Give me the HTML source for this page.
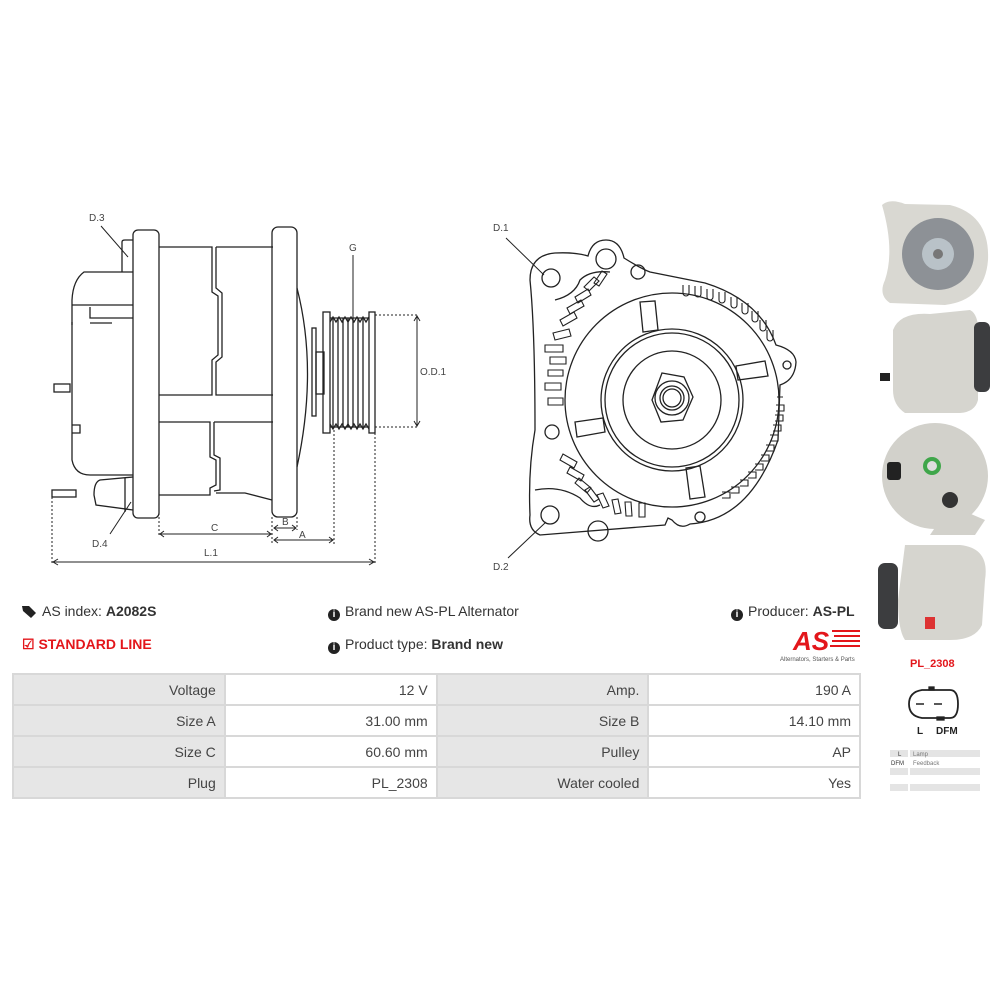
<!DOCTYPE html>
<html><head><meta charset="utf-8"><style>
body{margin:0;width:1000px;height:1000px;background:#fff;position:relative;overflow:hidden;font-family:"Liberation Sans",sans-serif;color:#333}
.t{position:absolute;font-size:14px;white-space:nowrap}
.i{display:inline-block;width:12px;height:12px;border-radius:50%;background:#222;color:#fff;font-size:10px;font-weight:bold;text-align:center;line-height:12px;vertical-align:-1px;margin-right:5px}
table{position:absolute;left:12px;top:673px;border-collapse:collapse;width:849px;font-size:14px;color:#444}
td{border:2px solid #d8d8d8;height:29px;text-align:right;padding:0 8px;width:196px}
td.g{background:#e6e6e6}
</style></head><body>
<svg width="1000" height="1000" style="position:absolute;left:0;top:0" fill="none" stroke="#222" stroke-width="1.3" font-family="Liberation Sans" >
<path d="M133,272 L84,272 Q73,280 72,300 L72,460 Q75,475 90,475 L133,475"/>
<path d="M72,305 L133,305 M90,307 L90,318 L133,318 M90,323 L112,323 M72,322 L72,325"/>
<path d="M72,425 L80,425 L80,433 L72,433"/>
<rect x="54" y="384" width="16" height="8"/>
<path d="M122,272 L122,242 Q122,240 125,240 L133,240"/>
<rect x="133" y="230" width="26" height="288" rx="5"/>
<path d="M159,247 L212,247 L212,292 L218,296 L218,355 L212,360 L212,395 L159,395"/>
<path d="M216,247 L273,247 M216,247 L216,288 L222,293 L222,357 L216,362 L216,395 L273,395"/>
<path d="M159,422 L210,422 L210,457 L216,460 L216,485 L210,488 L210,495 L159,495"/>
<path d="M214,422 L273,422 M214,422 L214,455 L220,458 L220,490 L214,491 M216,493 L245,493 L272,500"/>
<path d="M133,477 L100,480 Q94,482 94,495 L96,505 L133,510"/>
<path d="M125,478 L125,512"/>
<rect x="52" y="490" width="24" height="7"/>
<rect x="272" y="227" width="25" height="290" rx="6"/>
<path d="M297,288 Q318,370 297,467"/>
<rect x="312" y="328" width="4" height="88"/>
<rect x="316" y="352" width="8" height="42"/>
<rect x="323" y="312" width="7" height="121"/>
<rect x="369" y="312" width="6" height="121"/>
<path d="M330,318 L369,318 M330,427 L369,427 M333,318 L333,427 M338,318 L338,427 M343,318 L343,427 M348,318 L348,427 M353,318 L353,427 M358,318 L358,427 M363,318 L363,427"/>
<path d="M330,322 l3,-5 3,5 3,-5 3,5 3,-5 3,5 3,-5 3,5 3,-5 3,5 3,-5 3,5 3,-5 M330,424 l3,5 3,-5 3,5 3,-5 3,5 3,-5 3,5 3,-5 3,5 3,-5 3,5 3,-5 3,5"/>
<g stroke-dasharray="2,2" stroke-width="1">
<path d="M375,315 L418,315 M375,427 L418,427 M334,430 L334,545 M375,433 L375,565 M52,497 L52,565 M159,497 L159,537 M272,517 L272,545 M297,517 L297,530"/>
</g>
<g stroke-width="1">
<path d="M417,317 L417,425 M414,321 L417,316 L420,321 M414,421 L417,426 L420,421"/>
<path d="M54,562 L373,562 M58,559 L53,562 L58,565 M369,559 L374,562 L369,565"/>
<path d="M160,534 L271,534 M164,531 L160,534 L164,537 M267,531 L271,534 L267,537"/>
<path d="M274,528 L296,528 M278,525 L274,528 L278,531 M292,525 L296,528 L292,531"/>
<path d="M274,540 L333,540 M278,537 L274,540 L278,543 M329,537 L333,540 L329,543"/>
<path d="M101,226 L128,257 M353,255 L353,318 M110,534 L131,502 M506,238 L544,275 M508,558 L546,522"/>
</g>
<g fill="#444" stroke="none" font-size="10">
<text x="89" y="221">D.3</text><text x="349" y="251">G</text><text x="420" y="375">O.D.1</text>
<text x="92" y="547">D.4</text><text x="211" y="531">C</text><text x="282" y="525">B</text><text x="299" y="538">A</text>
<text x="204" y="556">L.1</text><text x="493" y="231">D.1</text><text x="493" y="570">D.2</text>
</g>
<path d="M530,280 Q530,255 555,253 Q575,252 588,256 Q592,240 606,240 Q620,240 624,258 Q640,268 650,272 L705,283 Q760,300 776,345 Q795,350 796,362 Q795,380 780,385 L778,440 Q750,520 690,524 Q680,530 672,520 L668,518 L665,525 L540,535 Q528,530 530,515 Q528,470 535,430 Q535,330 530,280Z"/>
<circle cx="551" cy="278" r="9"/><circle cx="606" cy="259" r="10"/><circle cx="638" cy="272" r="7"/>
<circle cx="552" cy="432" r="7"/><circle cx="550" cy="515" r="9"/><circle cx="598" cy="531" r="10"/><circle cx="700" cy="517" r="5"/><circle cx="787" cy="365" r="4"/>
<path d="M555,300 Q575,295 580,280 Q590,270 610,272 M535,490 Q560,485 580,498 Q590,510 600,505"/>
<circle cx="672" cy="400" r="107"/>
<circle cx="672" cy="400" r="71"/><circle cx="672" cy="400" r="67"/><circle cx="672" cy="400" r="49"/>
<polygon points="662,373 684,377 693,397 683,420 661,422 652,400"/>
<circle cx="672" cy="398" r="17"/><circle cx="672" cy="398" r="12"/><circle cx="672" cy="398" r="9"/>
<path d="M640,302 L655,301 L658,330 L643,332Z M736,366 L765,361 L768,376 L738,380Z M575,422 L603,418 L605,432 L577,437Z M686,468 L700,466 L705,497 L690,499Z"/>
<g stroke-width="1.1">
<path d="M548,370 h15 v6 h-15z M545,383 h16 v7 h-16z M548,398 h15 v7 h-15z M545,345 h18 v7 h-18z M550,357 h16 v7 h-16z"/>
<path d="M560,320 l14,-8 3,6 -14,8z M567,308 l14,-8 3,6 -14,8z M575,297 l13,-8 3,6 -13,8z M584,287 l10,-10 5,4 -10,10z M594,283 l8,-12 5,3 -8,12z M553,333 l16,-4 2,7 -16,4z"/>
<path d="M560,460 l14,8 3,-6 -14,-8z M567,473 l14,8 3,-6 -14,-8z M575,483 l12,10 4,-5 -12,-10z M585,490 l9,12 5,-3 -9,-12z M597,495 l6,13 6,-2 -6,-13z M612,500 l3,14 6,-1 -3,-14z M625,502 l1,14 6,0 -1,-14z M639,503 l0,14 6,0 0,-14z"/>
<path d="M683,285 v8 a3,3 0 0 0 6,0 v-8 M695,286 v8 a3,3 0 0 0 6,0 v-8 M707,289 v8 a3,3 0 0 0 6,0 v-8 M719,292 v8 a3,3 0 0 0 6,0 v-8 M731,297 v8 a3,3 0 0 0 6,0 v-8 M742,303 v8 a3,3 0 0 0 6,0 v-8 M752,311 v8 a3,3 0 0 0 6,0 v-8 M760,320 v8 a3,3 0 0 0 6,0 v-8 M767,330 v8 a3,3 0 0 0 6,0 v-8"/>
<path d="M777,397 h6 M776,405 h8 v6 h-8 M775,415 h8 v6 h-8 M773,425 h8 v6 h-8 M770,435 h8 v6 h-8 M766,445 h8 v6 h-8 M761,455 h8 v6 h-8 M755,464 h8 v6 h-8 M748,472 h8 v6 h-8 M740,480 h8 v6 h-8 M731,487 h8 v6 h-8 M722,492 h8 v6 h-8"/>
</g>
<g stroke="none">
<path d="M882,205 Q890,198 905,204 L950,205 Q990,215 988,260 Q985,300 945,305 L890,303 Q878,295 885,280 Q895,250 882,205Z" fill="#d9d8d2"/>
<circle cx="938" cy="254" r="36" fill="#8d9196"/><circle cx="938" cy="254" r="16" fill="#b9c2c8"/><circle cx="938" cy="254" r="5" fill="#777"/>
<path d="M893,330 Q900,312 930,314 L970,310 Q980,315 978,340 L978,400 Q975,412 960,413 L905,413 Q893,405 893,390Z" fill="#d6d5cf"/>
<rect x="974" y="322" width="16" height="70" rx="6" fill="#3c3d3f"/>
<rect x="880" y="373" width="10" height="8" fill="#222"/>
<circle cx="935" cy="476" r="53" fill="#d2d1cb"/>
<path d="M950,505 L985,520 L975,535 L930,535Z" fill="#d2d1cb"/>
<circle cx="932" cy="466" r="9" fill="#3fa64a"/><circle cx="932" cy="466" r="5" fill="#ddd"/>
<rect x="887" y="462" width="14" height="18" rx="3" fill="#222"/>
<circle cx="950" cy="500" r="8" fill="#333"/>
<path d="M905,545 L960,545 Q990,548 985,580 L982,625 Q975,640 950,640 L905,640 Q898,630 898,600Z" fill="#d6d5cf"/>
<rect x="878" y="563" width="20" height="66" rx="7" fill="#3c3d3f"/>
<rect x="925" y="617" width="10" height="12" fill="#d33"/>
</g>
<text x="793" y="650" font-size="26" font-weight="bold" font-style="italic" fill="#e3161b" stroke="none">AS</text>
<g stroke="#e3161b" stroke-width="2"><path d="M832,631 h28 M834,636 h26 M832,641 h28 M830,646 h30"/></g>
<text x="780" y="661" font-size="6" fill="#555" stroke="none">Alternators, Starters &amp; Parts</text>
<path d="M922,690 L950,690 Q958,690 958,704 Q958,718 950,718 L922,718 Q909,716 909,704 Q909,692 922,690Z" stroke-width="1.8"/>
<path d="M916,704 h8 M934,704 h8" stroke-width="1.6"/>
<rect x="929" y="687" width="5" height="3" fill="#222"/><rect x="937" y="717" width="7" height="3" fill="#222"/>
<text x="917" y="734" font-size="10" font-weight="bold" fill="#222" stroke="none">L</text>
<text x="936" y="734" font-size="10" font-weight="bold" fill="#222" stroke="none">DFM</text>
<g stroke="none" fill="#e4e4e4"><rect x="890" y="750" width="18" height="7"/><rect x="910" y="750" width="70" height="7"/><rect x="890" y="768" width="18" height="7"/><rect x="910" y="768" width="70" height="7"/><rect x="890" y="784" width="18" height="7"/><rect x="910" y="784" width="70" height="7"/></g>
<text x="898" y="756" font-size="6" fill="#333" stroke="none">L</text><text x="913" y="756" font-size="6" fill="#777" stroke="none">Lamp</text>
<text x="891" y="765" font-size="6" fill="#333" stroke="none">DFM</text><text x="913" y="765" font-size="6" fill="#777" stroke="none">Feedback</text>
<path d="M22,606 l7,0 7,7 -5,5 -8,-7z" fill="#222" stroke="none"/>
</svg>
<div class="t" style="left:42px;top:603px">AS index: <b>A2082S</b></div>
<div class="t" style="left:22px;top:636px;color:#e3161b;font-weight:bold">&#9745; STANDARD LINE</div>
<div class="t" style="left:328px;top:603px"><span class="i">i</span>Brand new AS-PL Alternator</div>
<div class="t" style="left:328px;top:636px"><span class="i">i</span>Product type: <b>Brand new</b></div>
<div class="t" style="left:731px;top:603px"><span class="i">i</span>Producer: <b>AS-PL</b></div>
<div class="t" style="left:910px;top:658px;color:#e3161b;font-weight:bold;font-size:11px">PL_2308</div>
<table>
<tr><td class="g">Voltage</td><td>12 V</td><td class="g">Amp.</td><td>190 A</td></tr>
<tr><td class="g">Size A</td><td>31.00 mm</td><td class="g">Size B</td><td>14.10 mm</td></tr>
<tr><td class="g">Size C</td><td>60.60 mm</td><td class="g">Pulley</td><td>AP</td></tr>
<tr><td class="g">Plug</td><td>PL_2308</td><td class="g">Water cooled</td><td>Yes</td></tr>
</table>
</body></html>
